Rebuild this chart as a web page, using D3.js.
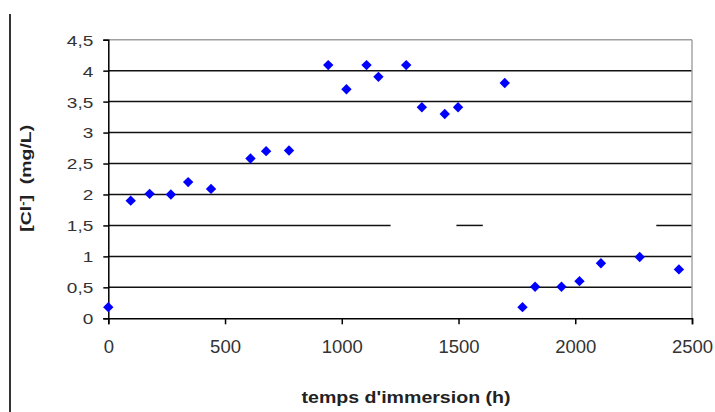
<!DOCTYPE html>
<html>
<head>
<meta charset="utf-8">
<script src="https://cdn.jsdelivr.net/npm/d3@7"></script>
<style>
  body { margin: 0; background: #fff; }
  svg { display: block; }
</style>
</head>
<body>
<div id="chart"></div>
<script>
// temps d'immersion (h) and [Cl-] (mg/L)
const hours = [0, 96, 177, 268, 342, 440, 609, 676, 774, 942, 1020, 1106, 1157, 1276,
  1343, 1441, 1498, 1698, 1774, 1828, 1941, 2018, 2110, 2276, 2444];
const chloride = [0.18, 1.9, 2.01, 2.0, 2.2, 2.09, 2.58, 2.7, 2.71, 4.09, 3.7, 4.09, 3.9, 4.09,
  3.41, 3.3, 3.41, 3.8, 0.18, 0.51, 0.51, 0.6, 0.89, 0.99, 0.79];
const xTicks = [0, 500, 1000, 1500, 2000, 2500];
const yTicks = [0, 0.5, 1, 1.5, 2, 2.5, 3, 3.5, 4, 4.5];
// the 1,5 gridline is broken in the scan (hours where it is missing)
const gapsAt15 = [[1209, 1491], [1604, 2347]];

const width = 715;
const height = 412;
const margin = ({top: 39.7, right: 23, bottom: 93.7, left: 108.3});

const fr = d3.formatLocale({decimal: ",", thousands: "\u00a0", grouping: [3], currency: ["", "€"]});
const fmt = fr.format("~g");

const x = d3.scaleLinear()
  .domain([0, 2500])
  .range([margin.left, width - margin.right]);
const y = d3.scaleLinear()
  .domain([0, 4.5])
  .range([height - margin.bottom, margin.top]);

const svg = d3.select("#chart").append("svg")
  .attr("width", width)
  .attr("height", height)
  .attr("font-family", "'Liberation Sans', Arial, sans-serif");

// page border on the left
svg.append("line")
  .attr("x1", 10).attr("x2", 10)
  .attr("y1", 14).attr("y2", height)
  .attr("stroke", "#000")
  .attr("stroke-width", 1.6);

// gridline segments, split where the scan lost them
const segments = [];
yTicks.filter(d => d > 0).forEach(v => {
  let start = 0;
  if (v === 1.5) {
    gapsAt15.forEach(([a, b]) => { segments.push({v, a: start, b: a}); start = b; });
  }
  segments.push({v, a: start, b: 2500});
});

svg.append("g")
  .selectAll("line")
  .data(segments)
  .join("line")
    .attr("x1", d => x(d.a))
    .attr("x2", d => x(d.b))
    .attr("y1", d => y(d.v))
    .attr("y2", d => y(d.v))
    .attr("stroke", d => d.v === 4.5 ? "#a0a0a0" : "#111")
    .attr("stroke-width", d => d.v === 4.5 ? 1.4 : 1.5);

// right border of plot area
svg.append("line")
  .attr("x1", x(2500)).attr("x2", x(2500))
  .attr("y1", y(4.5)).attr("y2", y(0))
  .attr("stroke", "#a0a0a0")
  .attr("stroke-width", 1.4);

const xAxis = g => g
  .attr("transform", `translate(0,${y(0)})`)
  .call(d3.axisBottom(x).tickValues(xTicks).tickSize(6).tickFormat(d3.format("d")))
  .call(g => g.select(".domain").attr("stroke", "#000").attr("stroke-width", 1.5))
  .call(g => g.selectAll(".tick line").attr("stroke", "#000").attr("stroke-width", 1.5))
  .call(g => g.selectAll(".tick text")
      .attr("y", 35)
      .attr("dy", 0)
      .attr("font-size", 18.5)
      .attr("fill", "#333"));

const yAxis = g => g
  .attr("transform", `translate(${x(0)},0)`)
  .call(d3.axisLeft(y).tickValues(yTicks).tickSize(5).tickFormat(fmt))
  .call(g => g.select(".domain").attr("stroke", "#000").attr("stroke-width", 1.5))
  .call(g => g.selectAll(".tick line").attr("stroke", "#000").attr("stroke-width", 1.5))
  .call(g => g.selectAll(".tick text")
      .attr("class", "ylab")
      .attr("x", -15)
      .attr("dy", "0.36em")
      .attr("font-size", 15)
      .attr("fill", "#333"));

svg.append("g").call(xAxis);
svg.append("g").call(yAxis);

// stretch the y tick labels a little, like in the picture
svg.selectAll(".ylab").each(function() {
  const len = this.getComputedTextLength();
  d3.select(this).attr("textLength", len * 1.27).attr("lengthAdjust", "spacingAndGlyphs");
});

// points
svg.append("g")
  .selectAll("path")
  .data(hours.map((h, i) => ({x: h, y: chloride[i]})))
  .join("path")
    .attr("transform", d => `translate(${x(d.x)},${y(d.y)}) rotate(45)`)
    .attr("d", d3.symbol(d3.symbolSquare, 54))
    .attr("fill", "#0000ff");

// axis titles
svg.append("text")
  .attr("x", 406)
  .attr("y", 403.3)
  .attr("text-anchor", "middle")
  .attr("font-size", 16)
  .attr("font-weight", "bold")
  .attr("fill", "#222")
  .attr("textLength", 209)
  .attr("lengthAdjust", "spacingAndGlyphs")
  .text("temps d'immersion (h)");

const yt = svg.append("text")
  .attr("transform", `translate(31,178.3) rotate(-90)`)
  .attr("text-anchor", "middle")
  .attr("font-size", 15)
  .attr("font-weight", "bold")
  .attr("fill", "#222")
  .attr("textLength", 107)
  .attr("lengthAdjust", "spacingAndGlyphs");
yt.append("tspan").text("[Cl");
yt.append("tspan").attr("dy", -5).attr("font-size", 10).text("-");
yt.append("tspan").attr("dy", 5).text("]\u00a0\u00a0(mg/L)");
</script>
</body>
</html>
